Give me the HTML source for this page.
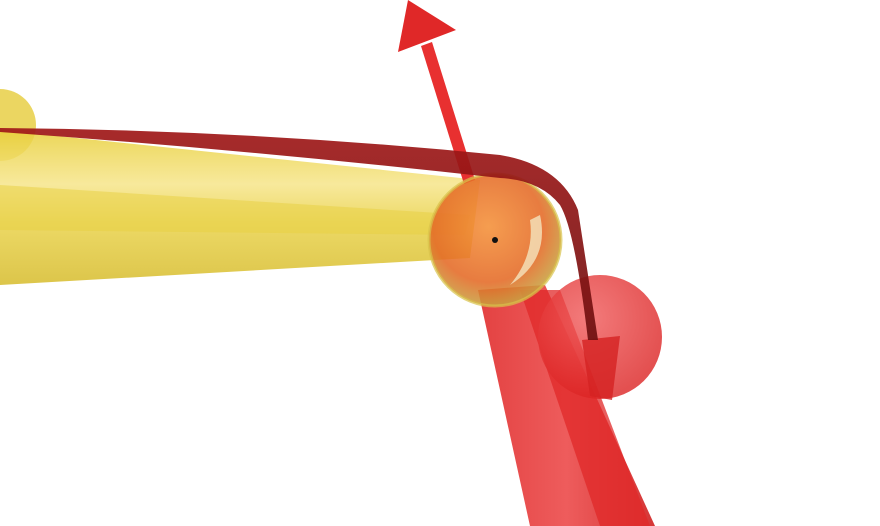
<!DOCTYPE html>
<html><head><meta charset="utf-8"><style>
html,body{margin:0;padding:0;background:#fff;width:880px;height:526px;overflow:hidden}
svg{display:block}
</style></head><body>
<svg width="880" height="526" viewBox="0 0 880 526">
<defs>
<linearGradient id="yel" x1="0" y1="0" x2="0" y2="1">
<stop offset="0" stop-color="#e8cf3a"/><stop offset="0.35" stop-color="#f6e58a"/><stop offset="0.6" stop-color="#e9d24a"/><stop offset="1" stop-color="#d6bb2a"/>
</linearGradient>
<linearGradient id="red" x1="0" y1="0" x2="1" y2="0">
<stop offset="0" stop-color="#e02c2c"/><stop offset="0.5" stop-color="#ec4a4a"/><stop offset="1" stop-color="#d02020"/>
</linearGradient>
<radialGradient id="joint" cx="0.45" cy="0.4" r="0.6">
<stop offset="0" stop-color="#f49038"/><stop offset="0.7" stop-color="#e46a26"/><stop offset="1" stop-color="#c9a040"/>
</radialGradient>
<radialGradient id="rsph" cx="0.4" cy="0.35" r="0.65">
<stop offset="0" stop-color="#f05a5a"/><stop offset="1" stop-color="#dc2424"/>
</radialGradient>
<linearGradient id="band" x1="0" y1="0" x2="0" y2="1">
<stop offset="0" stop-color="#a01818"/><stop offset="1" stop-color="#6e1010"/>
</linearGradient>
</defs>
<circle cx="0" cy="125" r="36" fill="#e6cc3a" opacity="0.8"/>
<path d="M0,130 L480,180 L470,258 L0,285 Z" fill="url(#yel)" opacity="0.85"/>
<path d="M0,185 L470,215 L465,235 L0,230 Z" fill="#e7cf40" opacity="0.5"/>
<path d="M478,290 L545,285 L655,526 L530,526 Z" fill="url(#red)" opacity="0.9"/>
<path d="M520,290 L560,290 L650,526 L600,526 Z" fill="#e02828" opacity="0.75"/>
<circle cx="600" cy="337" r="62" fill="url(#rsph)" opacity="0.8"/>
<path d="M582,340 L620,336 L612,400 L590,396 Z" fill="#d42222" opacity="0.8"/>
<path d="M421,46 L432,42 L475,180 L464,184 Z" fill="#e83030"/>
<path d="M408,0 L456,30 L398,52 Z" fill="#e02828"/>
<circle cx="495" cy="240" r="66" fill="url(#joint)" opacity="0.88"/>
<circle cx="495" cy="240" r="66" fill="none" stroke="#d8c24a" stroke-width="3" opacity="0.7"/>
<path d="M540,215 Q550,260 510,285 Q535,255 530,220 Z" fill="#f3d9b0" opacity="0.9"/>
<circle cx="495" cy="240" r="3" fill="#111"/>
<path d="M0,128 Q250,130 500,155 Q560,165 578,210 L598,340 L588,340 Q575,230 560,205 Q540,180 500,178 Q250,150 0,132 Z" fill="url(#band)" opacity="0.92"/>
</svg>
</body></html>
